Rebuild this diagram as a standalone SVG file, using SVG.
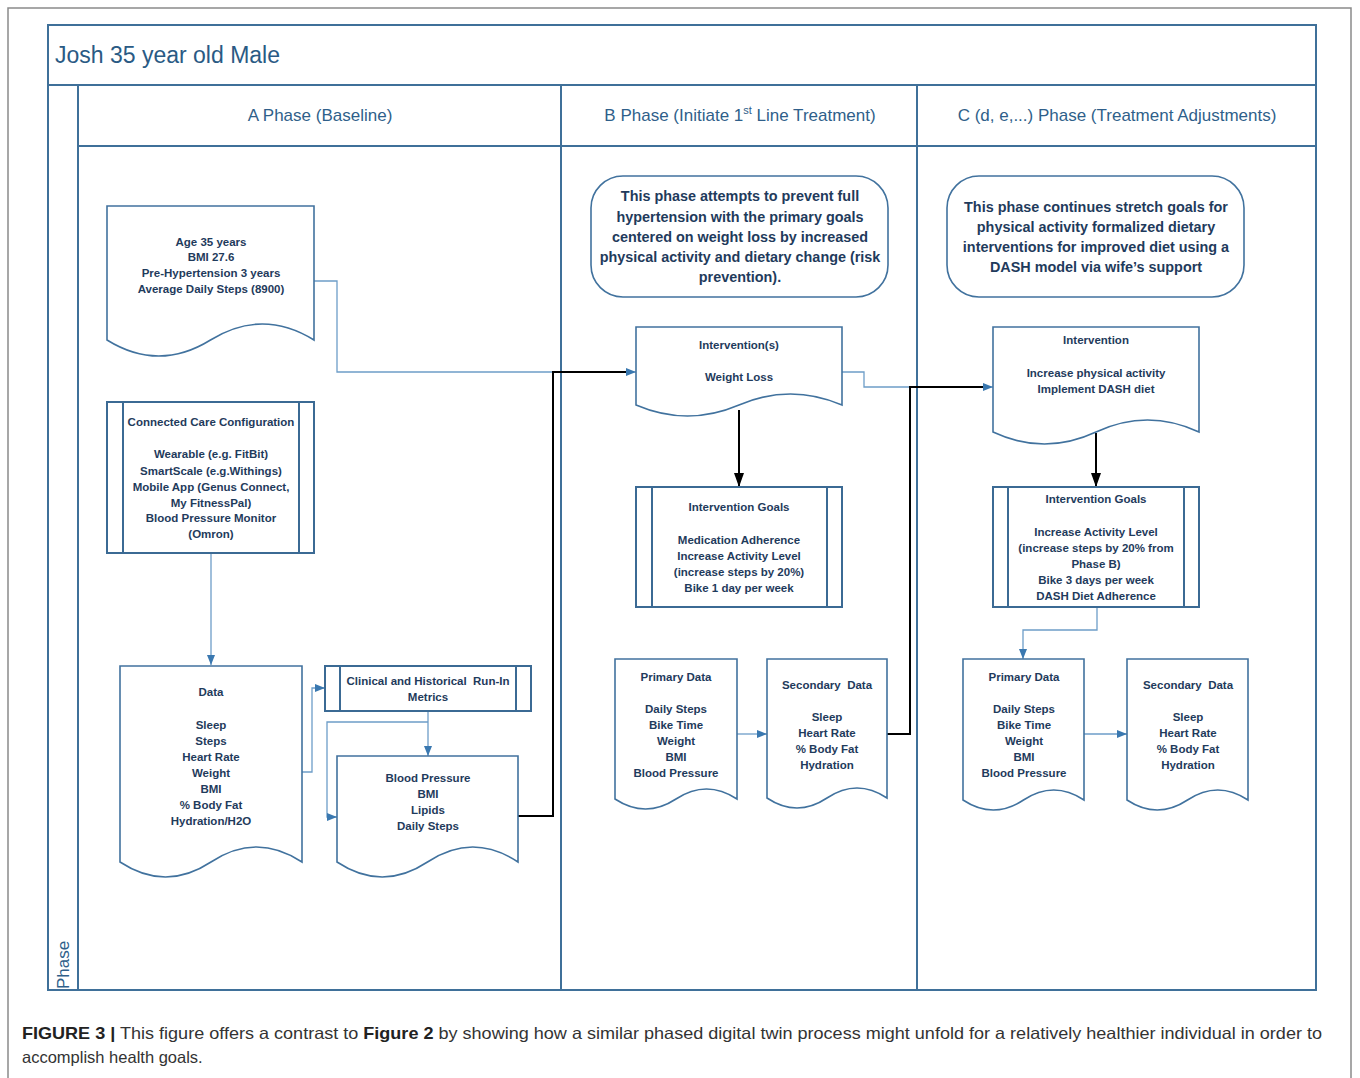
<svg xmlns="http://www.w3.org/2000/svg" width="1360" height="1078" viewBox="0 0 1360 1078">
<style>
.frame{fill:none;stroke:#3f7099;stroke-width:2}
.shape{fill:#ffffff;stroke:#41729e;stroke-width:1.6}
.sub{fill:#ffffff;stroke:#3b6a94;stroke-width:2}
.cb{fill:none;stroke:#6d9dc8;stroke-width:1.3}
.ck{fill:none;stroke:#000000;stroke-width:2}
.t{font-family:"Liberation Sans",Arial,sans-serif;font-size:11.5px;font-weight:bold;fill:#1f3b5c;text-anchor:middle}
.tb{font-family:"Liberation Sans",Arial,sans-serif;font-size:14.4px;font-weight:bold;fill:#1f3b5c;text-anchor:middle}
.hd{font-family:"Liberation Sans",Arial,sans-serif;font-size:17px;fill:#2f5f8a;text-anchor:middle}
.ti{font-family:"Liberation Sans",Arial,sans-serif;font-size:23px;fill:#2a5a84}
.cap{font-family:"Liberation Sans",Arial,sans-serif;font-size:16.5px;fill:#333333}
</style>
<defs>
<marker id="ab" viewBox="0 0 10 8" refX="10" refY="4" markerWidth="10" markerHeight="8" markerUnits="userSpaceOnUse" orient="auto"><path d="M0,0 L10,4 L0,8 Z" fill="#3a78b0"/></marker>
<marker id="ak" viewBox="0 0 14 10" refX="14" refY="5" markerWidth="14" markerHeight="10" markerUnits="userSpaceOnUse" orient="auto"><path d="M0,0 L14,5 L0,10 Z" fill="#000000"/></marker>
</defs>
<rect x="0" y="0" width="1360" height="1078" fill="#ffffff"/>
<path d="M8,1078 V8 H1351 V1078" fill="none" stroke="#8a8a8a" stroke-width="1.5"/>

<g id="swimlanes">
<rect class="frame" x="48" y="25" width="1268" height="965"/>
<line class="frame" x1="48" y1="85" x2="1316" y2="85"/>
<line class="frame" x1="78" y1="85" x2="78" y2="990"/>
<line class="frame" x1="78" y1="146" x2="1316" y2="146"/>
<line class="frame" x1="561" y1="85" x2="561" y2="990"/>
<line class="frame" x1="917" y1="85" x2="917" y2="990"/>
<text class="ti" x="55" y="63">Josh 35 year old Male</text>
<text class="hd" x="320" y="121">A Phase (Baseline)</text>
<text class="hd" x="740" y="121">B Phase (Initiate 1<tspan font-size="11" dy="-7">st</tspan><tspan dy="7"> Line Treatment)</tspan></text>
<text class="hd" x="1117" y="121">C (d, e,...) Phase (Treatment Adjustments)</text>
<text class="hd" transform="translate(69,965) rotate(-90)">Phase</text>
</g>

<g id="connectors">
<path class="cb" d="M314,281 H337 V372 H553"/>
<path class="cb" d="M211,553 V665" marker-end="url(#ab)"/>
<path class="cb" d="M302,772 H312 V688 H325" marker-end="url(#ab)"/>
<path class="cb" d="M428,711 V756" marker-end="url(#ab)"/>
<path class="cb" d="M428,722 H327 V817 H337" marker-end="url(#ab)"/>
<path class="cb" d="M842,372 H864 V387 H910"/>
<path class="cb" d="M737,734 H767" marker-end="url(#ab)"/>
<path class="cb" d="M1097,607 V630 H1023 V659" marker-end="url(#ab)"/>
<path class="cb" d="M1084,734 H1127" marker-end="url(#ab)"/>
<path class="ck" d="M518,816 H553 V372 H626"/>
<path class="cb" d="M626,372 H636" marker-end="url(#ab)"/>
<path class="ck" d="M739,410 V487" marker-end="url(#ak)"/>
<path class="ck" d="M887,734 H910 V387 H983"/>
<path class="cb" d="M983,387 H993" marker-end="url(#ab)"/>
<path class="ck" d="M1096,433 V487" marker-end="url(#ak)"/>
</g>

<g id="baseline-doc">
<path class="shape" d="M107,206 H314 V340 Q262.25,308 210.5,340 T107,340 Z"/>
<text class="t" x="211" y="246">Age 35 years</text>
<text class="t" x="211" y="261">BMI 27.6</text>
<text class="t" x="211" y="277">Pre-Hypertension 3 years</text>
<text class="t" x="211" y="293">Average Daily Steps (8900)</text>
</g>

<g id="connected-care">
<rect class="sub" x="107" y="402" width="207" height="151"/>
<line class="sub" x1="123" y1="402" x2="123" y2="553"/>
<line class="sub" x1="299" y1="402" x2="299" y2="553"/>
<text class="t" x="211" y="426">Connected Care Configuration</text>
<text class="t" x="211" y="458">Wearable (e.g. FitBit)</text>
<text class="t" x="211" y="475">SmartScale (e.g.Withings)</text>
<text class="t" x="211" y="491">Mobile App (Genus Connect,</text>
<text class="t" x="211" y="507">My FitnessPal)</text>
<text class="t" x="211" y="522">Blood Pressure Monitor</text>
<text class="t" x="211" y="538">(Omron)</text>
</g>

<g id="data">
<path class="shape" d="M120,666 H302 V862 Q256.5,832 211,862 T120,862 Z"/>
<text class="t" x="211" y="696">Data</text>
<text class="t" x="211" y="729">Sleep</text>
<text class="t" x="211" y="745">Steps</text>
<text class="t" x="211" y="761">Heart Rate</text>
<text class="t" x="211" y="777">Weight</text>
<text class="t" x="211" y="793">BMI</text>
<text class="t" x="211" y="809">% Body Fat</text>
<text class="t" x="211" y="825">Hydration/H2O</text>
</g>

<g id="clinical">
<rect class="sub" x="325" y="666" width="206" height="45"/>
<line class="sub" x1="340" y1="666" x2="340" y2="711"/>
<line class="sub" x1="516" y1="666" x2="516" y2="711"/>
<text class="t" x="428" y="685" xml:space="preserve">Clinical and Historical  Run-In</text>
<text class="t" x="428" y="701">Metrics</text>
</g>

<g id="clinical-data">
<path class="shape" d="M337,756 H518 V862 Q472.75,832 427.5,862 T337,862 Z"/>
<text class="t" x="428" y="782">Blood Pressure</text>
<text class="t" x="428" y="798">BMI</text>
<text class="t" x="428" y="814">Lipids</text>
<text class="t" x="428" y="830">Daily Steps</text>
</g>

<g id="b-note">
<rect class="shape" x="591" y="176" width="297" height="121" rx="32" ry="32"/>
<text class="tb" x="740" y="201">This phase attempts to prevent full</text>
<text class="tb" x="740" y="222">hypertension with the primary goals</text>
<text class="tb" x="740" y="242">centered on weight loss by increased</text>
<text class="tb" x="740" y="262">physical activity and dietary change (risk</text>
<text class="tb" x="740" y="282">prevention).</text>
</g>

<g id="b-intervention">
<path class="shape" d="M636,327 H842 V405 Q790.5,383 739,405 T636,405 Z"/>
<text class="t" x="739" y="349">Intervention(s)</text>
<text class="t" x="739" y="381">Weight Loss</text>
</g>

<g id="b-goals">
<rect class="sub" x="636" y="487" width="206" height="120"/>
<line class="sub" x1="652" y1="487" x2="652" y2="607"/>
<line class="sub" x1="827" y1="487" x2="827" y2="607"/>
<text class="t" x="739" y="511">Intervention Goals</text>
<text class="t" x="739" y="544">Medication Adherence</text>
<text class="t" x="739" y="560">Increase Activity Level</text>
<text class="t" x="739" y="576">(increase steps by 20%)</text>
<text class="t" x="739" y="592">Bike 1 day per week</text>
</g>

<g id="b-primary">
<path class="shape" d="M615,659 H737 V799 Q706.5,779 676,799 T615,799 Z"/>
<text class="t" x="676" y="681">Primary Data</text>
<text class="t" x="676" y="713">Daily Steps</text>
<text class="t" x="676" y="729">Bike Time</text>
<text class="t" x="676" y="745">Weight</text>
<text class="t" x="676" y="761">BMI</text>
<text class="t" x="676" y="777">Blood Pressure</text>
</g>

<g id="b-secondary">
<path class="shape" d="M767,659 H887 V798 Q857,778 827,798 T767,798 Z"/>
<text class="t" x="827" y="689" xml:space="preserve">Secondary  Data</text>
<text class="t" x="827" y="721">Sleep</text>
<text class="t" x="827" y="737">Heart Rate</text>
<text class="t" x="827" y="753">% Body Fat</text>
<text class="t" x="827" y="769">Hydration</text>
</g>

<g id="c-note">
<rect class="shape" x="947" y="176" width="297" height="121" rx="32" ry="32"/>
<text class="tb" x="1096" y="212">This phase continues stretch goals for</text>
<text class="tb" x="1096" y="232">physical activity formalized dietary</text>
<text class="tb" x="1096" y="252">interventions for improved diet using a</text>
<text class="tb" x="1096" y="272">DASH model via wife’s support</text>
</g>

<g id="c-intervention">
<path class="shape" d="M993,327 H1199 V432 Q1147.5,408 1096,432 T993,432 Z"/>
<text class="t" x="1096" y="344">Intervention</text>
<text class="t" x="1096" y="377">Increase physical activity</text>
<text class="t" x="1096" y="393">Implement DASH diet</text>
</g>

<g id="c-goals">
<rect class="sub" x="993" y="487" width="206" height="120"/>
<line class="sub" x1="1008" y1="487" x2="1008" y2="607"/>
<line class="sub" x1="1184" y1="487" x2="1184" y2="607"/>
<text class="t" x="1096" y="503">Intervention Goals</text>
<text class="t" x="1096" y="536">Increase Activity Level</text>
<text class="t" x="1096" y="552">(increase steps by 20% from</text>
<text class="t" x="1096" y="568">Phase B)</text>
<text class="t" x="1096" y="584">Bike 3 days per week</text>
<text class="t" x="1096" y="600">DASH Diet Adherence</text>
</g>

<g id="c-primary">
<path class="shape" d="M963,659 H1084 V800 Q1053.75,780 1023.5,800 T963,800 Z"/>
<text class="t" x="1024" y="681">Primary Data</text>
<text class="t" x="1024" y="713">Daily Steps</text>
<text class="t" x="1024" y="729">Bike Time</text>
<text class="t" x="1024" y="745">Weight</text>
<text class="t" x="1024" y="761">BMI</text>
<text class="t" x="1024" y="777">Blood Pressure</text>
</g>

<g id="c-secondary">
<path class="shape" d="M1127,659 H1248 V800 Q1217.75,780 1187.5,800 T1127,800 Z"/>
<text class="t" x="1188" y="689" xml:space="preserve">Secondary  Data</text>
<text class="t" x="1188" y="721">Sleep</text>
<text class="t" x="1188" y="737">Heart Rate</text>
<text class="t" x="1188" y="753">% Body Fat</text>
<text class="t" x="1188" y="769">Hydration</text>
</g>

<g id="caption">
<text class="cap" x="22" y="1039" textLength="1300" lengthAdjust="spacingAndGlyphs"><tspan font-weight="bold" fill="#222222">FIGURE 3 |</tspan> This figure offers a contrast to <tspan font-weight="bold" fill="#222222">Figure 2</tspan> by showing how a similar phased digital twin process might unfold for a relatively healthier individual in order to</text>
<text class="cap" x="22" y="1063">accomplish health goals.</text>
</g>
</svg>
